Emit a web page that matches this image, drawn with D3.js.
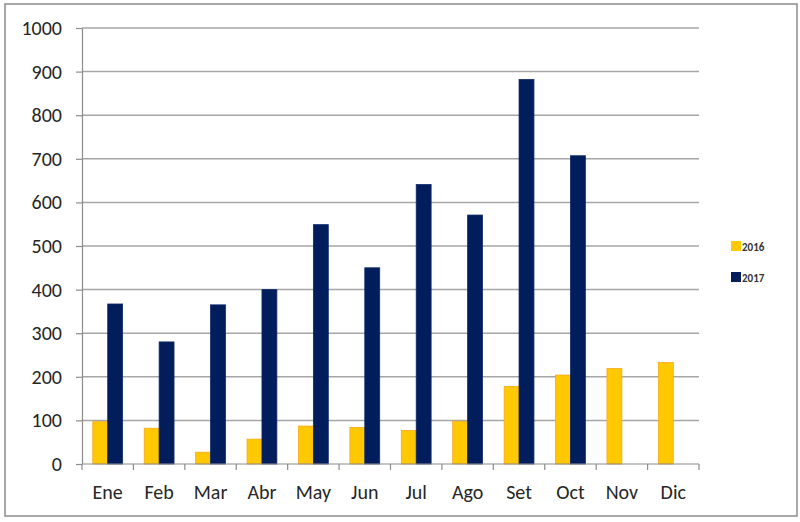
<html>
<head>
<script src="https://cdnjs.cloudflare.com/ajax/libs/d3/7.8.5/d3.min.js"></script>
<style>
    body { margin: 0; background: #fff; }
    svg { font-family: Carlito, "Liberation Sans", "DejaVu Sans", sans-serif; }
    .tickLabel { fill: #262626; font-size: 20px; }
    .legendLabel { fill: #333; font-size: 11px; font-weight: bold; }
</style>
</head>
<body>
<script type="text/javascript">
    var months = ["Ene", "Feb", "Mar", "Abr", "May", "Jun", "Jul", "Ago", "Set", "Oct", "Nov", "Dic"];
    var series = ["2016", "2017"];
    var values2016 = [97, 82, 27, 57, 87, 84, 77, 98, 178, 204, 219, 233];
    var values2017 = [367, 280, 365, 400, 549, 450, 641, 571, 882, 707, null, null];
    var yTicks = [0, 100, 200, 300, 400, 500, 600, 700, 800, 900, 1000];

    var colors = { "2016": "#ffc800", "2017": "#021d5c" };
    var strokes = { "2016": "#f7a81b", "2017": "#0d2a6b" };

    var width = 800, height = 522;
    var plotLeft = 82, plotRight = 699, plotTop = 28, plotBottom = 464;

    var svg = d3.select("body").append("svg")
        .attr("width", width)
        .attr("height", height);

    // outer frame
    svg.append("rect")
        .attr("x", 5).attr("y", 4)
        .attr("width", 792).attr("height", 512)
        .attr("fill", "#fff")
        .attr("stroke", "#8c8c8c")
        .attr("stroke-width", 1.5);

    var x = d3.scaleBand().domain(months).range([plotLeft, plotRight]).paddingInner(0.42).paddingOuter(0.21);
    var xs = d3.scaleBand().domain(series).range([0, x.bandwidth()]);
    var y = d3.scaleLinear().domain([0, 1000]).range([plotBottom, plotTop]);

    // gridlines
    svg.append("g").selectAll("line")
        .data(yTicks.slice(1))
        .enter().append("line")
        .attr("x1", plotLeft).attr("x2", plotRight)
        .attr("y1", d => y(d)).attr("y2", d => y(d))
        .attr("stroke", "#a6a6a6")
        .attr("stroke-width", 1.5);

    // y axis
    var yAxis = svg.append("g")
        .attr("transform", "translate(" + plotLeft + ",0)")
        .call(d3.axisLeft(y).tickValues(yTicks).tickFormat(d3.format("d")).tickSize(6).tickPadding(14).tickSizeOuter(0));
    yAxis.attr("font-size", null).attr("font-family", null);
    yAxis.select(".domain").attr("stroke", "#8c8c8c").attr("stroke-width", 1.2);
    yAxis.selectAll(".tick line").attr("stroke", "#8c8c8c").attr("stroke-width", 1.2);
    yAxis.selectAll(".tick text").attr("class", "tickLabel").attr("fill", null);

    // bars
    var data2016 = months.map((m, i) => ({ month: m, key: "2016", value: values2016[i] }));
    var data2017 = months.map((m, i) => ({ month: m, key: "2017", value: values2017[i] }));
    [data2016, data2017].forEach(function (rows) {
        svg.append("g").selectAll("rect")
            .data(rows.filter(d => d.value != null))
            .enter().append("rect")
            .attr("x", d => x(d.month) + xs(d.key))
            .attr("width", xs.bandwidth())
            .attr("y", d => y(d.value))
            .attr("height", d => y(0) - y(d.value))
            .attr("fill", d => colors[d.key])
            .attr("stroke", d => strokes[d.key])
            .attr("stroke-width", 0.8);
    });

    // x axis
    var step = x.step();
    var boundaries = months.map((m, i) => plotLeft + i * step).concat([plotRight]);
    svg.append("line")
        .attr("x1", plotLeft).attr("x2", plotRight)
        .attr("y1", plotBottom).attr("y2", plotBottom)
        .attr("stroke", "#8c8c8c").attr("stroke-width", 1.2);
    svg.append("g").selectAll("line")
        .data(boundaries)
        .enter().append("line")
        .attr("x1", d => d).attr("x2", d => d)
        .attr("y1", plotBottom).attr("y2", plotBottom + 6)
        .attr("stroke", "#8c8c8c").attr("stroke-width", 1.2);
    svg.append("g").selectAll("text")
        .data(months)
        .enter().append("text")
        .attr("class", "tickLabel")
        .attr("x", d => x(d) + x.bandwidth() / 2)
        .attr("y", 499)
        .attr("text-anchor", "middle")
        .text(d => d);

    // legend
    var legend = svg.append("g").selectAll("g")
        .data(series)
        .enter().append("g")
        .attr("transform", (d, i) => "translate(731," + (241 + i * 31) + ")");
    legend.append("rect")
        .attr("width", 10).attr("height", 10)
        .attr("fill", d => colors[d]);
    legend.append("text")
        .attr("class", "legendLabel")
        .attr("x", 11).attr("y", 9.5)
        .text(d => d);
</script>
</body>
</html>
